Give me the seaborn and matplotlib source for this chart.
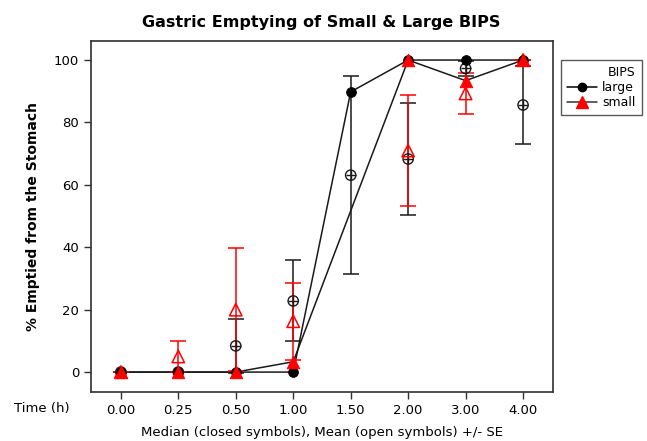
import numpy as np
import pandas as pd
import seaborn as sns
import matplotlib
matplotlib.use("Agg")
import matplotlib.pyplot as plt
from matplotlib.lines import Line2D

# ---- data ----
time_labels = ["0.00", "0.25", "0.50", "1.00", "1.50", "2.00", "3.00", "4.00"]
large_median = [0, 0, 0, 0, 89.8, 100, 100, 100]
small_median = [0, 0, 0, 3.3, np.nan, 100, 93.4, 100]
large_mean = [0, 0, 8.4, 22.8, 63.1, 68.3, 97.3, 85.6]
large_se = [0, 0, 8.6, 13.0, 31.8, 17.8, 2.5, 12.6]
small_mean = [0, 5.0, 20.0, 16.3, np.nan, 71.0, 89.3, 100]
small_se = [0, 5.0, 19.7, 12.4, np.nan, 17.8, 6.6, 0]

sns.set_style("white")
plt.rcParams['font.family'] = ['DejaVu Sans']
plt.rcParams['text.color'] = 'black'
plt.rcParams['xtick.color'] = 'black'
plt.rcParams['ytick.color'] = 'black'
plt.rcParams['axes.labelcolor'] = 'black'

pos = np.arange(len(time_labels))
df = pd.DataFrame({
    "pos": np.concatenate([pos, pos]),
    "median": large_median + small_median,
    "mean": large_mean + small_mean,
    "se": large_se + small_se,
    "BIPS": ["large"] * len(pos) + ["small"] * len(pos),
})

fig = plt.figure(figsize=(6.47, 4.41), dpi=100)
ax = fig.add_axes([0.1406, 0.111, 0.714, 0.796])

# median lines (black)
for grp in ["large", "small"]:
    d = df[df.BIPS == grp].dropna(subset=["median"])
    sns.lineplot(data=d, x="pos", y="median", color="#1a1a1a", lw=1.1,
                 ax=ax, legend=False, sort=False, zorder=2)

# error bars
dl = df[df.BIPS == "large"]
ds = df[df.BIPS == "small"].dropna(subset=["mean"])
ax.errorbar(dl.pos, dl["mean"], yerr=dl.se, fmt="none", ecolor="#1a1a1a",
            elinewidth=1.1, capsize=5.5, capthick=1.1, zorder=3)
ax.errorbar(ds.pos, ds["mean"], yerr=ds.se, fmt="none", ecolor="red",
            elinewidth=1.1, capsize=5.5, capthick=1.1, zorder=3)

# open symbols (means)
sns.scatterplot(data=dl, x="pos", y="mean", marker="o", s=55,
                facecolor="none", edgecolor="#1a1a1a", linewidth=1.0,
                ax=ax, legend=False, zorder=4)
sns.scatterplot(data=dl, x="pos", y="mean", marker="+", s=60,
                color="#1a1a1a", linewidth=1.0, ax=ax, legend=False, zorder=4)
sns.scatterplot(data=ds, x="pos", y="mean", marker="^", s=80,
                facecolor="none", edgecolor="red", linewidth=1.1,
                ax=ax, legend=False, zorder=4)

# closed symbols (medians)
dml = df[df.BIPS == "large"]
dms = df[df.BIPS == "small"].dropna(subset=["median"])
sns.scatterplot(data=dml, x="pos", y="median", marker="o", s=50,
                color="black", edgecolor="black", ax=ax, legend=False, zorder=5)
sns.scatterplot(data=dms, x="pos", y="median", marker="^", s=80,
                color="red", edgecolor="red", ax=ax, legend=False, zorder=6)

ax.set_xlim(-0.52, 7.52)
ax.set_ylim(-6.4, 106.1)
ax.set_xticks(pos)
ax.set_xticklabels(time_labels)
ax.set_yticks([0, 20, 40, 60, 80, 100])
ax.tick_params(axis="both", direction="out", length=5, width=1,
               color="#303030", labelsize=9.5, bottom=True, left=True,
               labelcolor="black")
ax.set_xlabel("")
ax.set_ylabel("% Emptied from the Stomach", fontsize=10, fontweight="bold",
              labelpad=10, color="black")
for s in ax.spines.values():
    s.set_color("#303030")
    s.set_linewidth(1.2)

fig.text(0.497, 0.948, "Gastric Emptying of Small & Large BIPS",
         ha="center", va="center", fontsize=11.5, fontweight="bold",
         color="black")
fig.text(0.022, 0.073, "Time (h)", ha="left", va="center", fontsize=9.5,
         color="black")
fig.text(0.497, 0.02, "Median (closed symbols), Mean (open symbols) +/- SE",
         ha="center", va="center", fontsize=9.5, color="black")

handles = [
    Line2D([0], [0], color="black", marker="o", markersize=6, lw=1.1,
           markerfacecolor="black"),
    Line2D([0], [0], color="#303030", marker="^", markersize=8, lw=1.1,
           markerfacecolor="red", markeredgecolor="red"),
]
leg = fig.legend(handles, ["large", "small"], title="BIPS",
                 loc="upper left", bbox_to_anchor=(0.857, 0.878),
                 frameon=True, fancybox=False, edgecolor="#303030",
                 fontsize=9, title_fontsize=9, handlelength=2.4,
                 borderpad=0.5, labelspacing=0.15, handletextpad=0.4)
leg._legend_box.align = "right"
leg.get_frame().set_linewidth(1.0)

fig.savefig("out.png", dpi=100)
